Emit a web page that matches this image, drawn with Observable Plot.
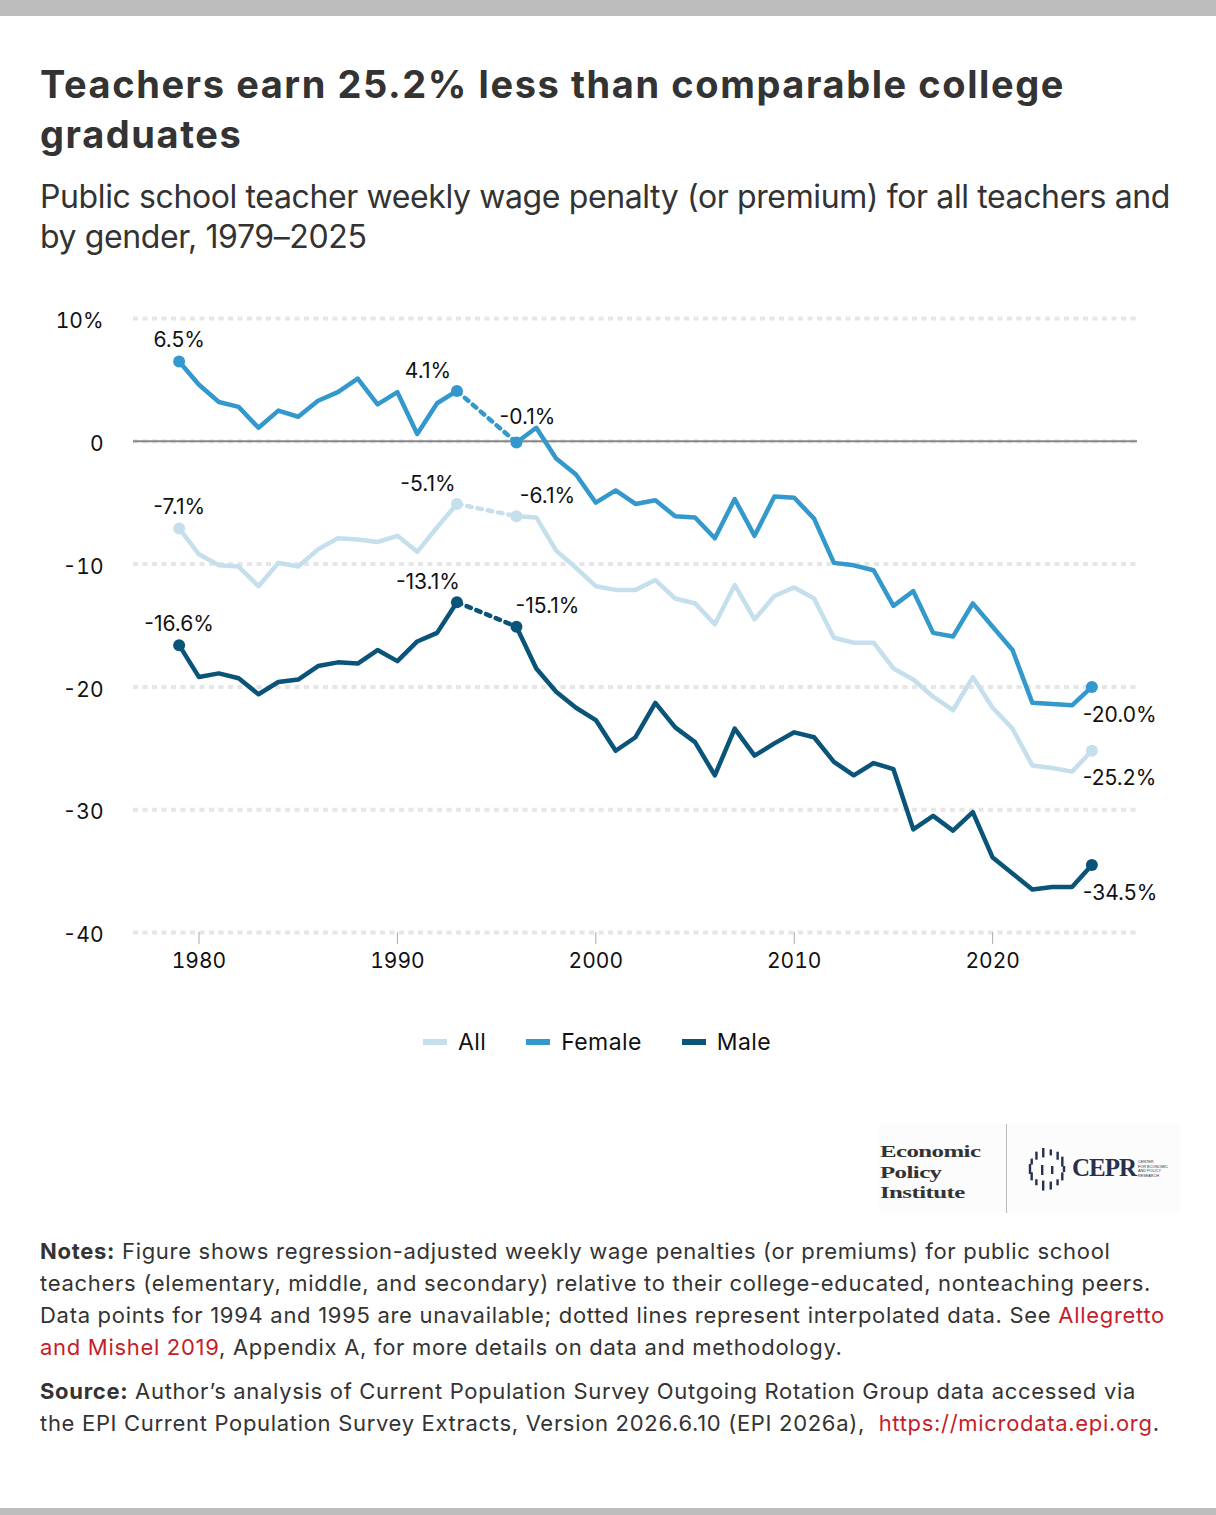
<!DOCTYPE html>
<html><head><meta charset="utf-8">
<script src="https://cdn.jsdelivr.net/npm/d3@7"></script>
<script src="https://cdn.jsdelivr.net/npm/@observablehq/plot@0.6"></script>
<style>
body{margin:0;width:1216px;height:1515px;position:relative;background:#fff;font-family:Inter,sans-serif;color:#333;overflow:hidden}
.bar{position:absolute;left:0;width:1216px;background:#bdbdbd}
#title{position:absolute;left:40px;top:59px;font-size:38px;font-weight:700;line-height:50px;white-space:nowrap;color:#333}
#subtitle{position:absolute;left:40px;top:177px;font-size:32px;font-weight:400;line-height:40px;white-space:nowrap;color:#333}
#chart{position:absolute;left:0;top:300px}
#legend{position:absolute;left:-11px;top:1028px;width:1216px;height:28px;display:flex;justify-content:center;align-items:center;font-size:23px;letter-spacing:0.4px;color:#111}
#legend .item{display:flex;align-items:center;margin:0 20px}
#legend .sw{width:24px;height:6px;margin-right:11px}
#logo{position:absolute;left:879px;top:1124px;width:301px;height:89px;background:#fcfcfc}
#epi{position:absolute;left:1px;top:17px;font-family:"Liberation Serif",serif;font-weight:700;font-size:17.5px;line-height:20.5px;color:#333;letter-spacing:-0.4px;transform:scaleX(1.42);transform-origin:0 0}
#sep{position:absolute;left:127px;top:0;width:1px;height:89px;background:#bbb}
#cepr{position:absolute;left:193px;top:30px;font-family:"Liberation Serif",serif;font-weight:700;font-size:25px;line-height:28px;color:#27304f;letter-spacing:-1px}
#ceprsmall{position:absolute;left:259px;top:36px;font-family:"Liberation Sans",sans-serif;font-size:3.8px;line-height:4.6px;color:#27304f}
#icon{position:absolute;left:145px;top:24px}
.notes{position:absolute;left:40px;font-size:22px;line-height:32px;white-space:nowrap;color:#333}
.notes a{color:#c41e2a;text-decoration:none}
</style></head>
<body>
<div class="bar" style="top:0;height:16px"></div>
<div id="title"><span id="t1">Teachers earn 25.2% less than comparable college</span><br>graduates</div>
<div id="subtitle"><span id="s1">Public school teacher weekly wage penalty (or premium) for all teachers and</span><br>by gender, 1979–2025</div>
<div id="chart"></div>
<div id="legend"></div>
<div id="logo">
  <div id="epi">Economic<br>Policy<br>Institute</div>
  <div id="sep"></div>
  <svg id="icon" width="46" height="44"></svg>
  <div id="cepr">CEPR</div>
  <div id="ceprsmall">CENTER<br>FOR ECONOMIC<br>AND POLICY<br>RESEARCH</div>
</div>
<div class="notes" id="notes" style="top:1235px"><b>Notes:</b> Figure shows regression-adjusted weekly wage penalties (or premiums) for public school<br>teachers (elementary, middle, and secondary) relative to their college-educated, nonteaching peers.<br><span id="n3">Data points for 1994 and 1995 are unavailable; dotted lines represent interpolated data. See <a>Allegretto</a></span><br><a>and Mishel 2019</a>, Appendix A, for more details on data and methodology.</div>
<div class="notes" id="source" style="top:1375px"><span id="r1"><b>Source:</b> Author’s analysis of Current Population Survey Outgoing Rotation Group data accessed via</span><br>the EPI Current Population Survey Extracts, Version 2026.6.10 (EPI 2026a),&nbsp; <a>https://microdata.epi.org</a>.</div>
<div class="bar" style="top:1508px;height:7px"></div>
<script>
const years = [1979,1980,1981,1982,1983,1984,1985,1986,1987,1988,1989,1990,1991,1992,1993,
  1996,1997,1998,1999,2000,2001,2002,2003,2004,2005,2006,2007,2008,2009,2010,
  2011,2012,2013,2014,2015,2016,2017,2018,2019,2020,2021,2022,2023,2024,2025];
const allValues = [-7.1,-9.2,-10.1,-10.2,-11.8,-9.9,-10.2,-8.8,-7.9,-8.0,-8.2,-7.7,-9.0,-7.0,-5.1,
  -6.1,-6.2,-8.9,-10.3,-11.8,-12.1,-12.1,-11.3,-12.8,-13.2,-14.9,-11.7,-14.5,-12.6,-11.9,
  -12.8,-16.0,-16.4,-16.4,-18.5,-19.4,-20.8,-21.9,-19.2,-21.7,-23.4,-26.4,-26.6,-26.9,-25.2];
const femaleValues = [6.5,4.6,3.2,2.8,1.1,2.5,2.0,3.3,4.0,5.1,3.0,4.0,0.6,3.1,4.1,
  -0.1,1.1,-1.4,-2.7,-5.0,-4.0,-5.1,-4.8,-6.1,-6.2,-7.9,-4.7,-7.7,-4.5,-4.6,
  -6.3,-9.9,-10.1,-10.5,-13.4,-12.2,-15.6,-15.9,-13.2,-15.1,-17.0,-21.3,-21.4,-21.5,-20.0];
const maleValues = [-16.6,-19.2,-18.9,-19.3,-20.6,-19.6,-19.4,-18.3,-18.0,-18.1,-17.0,-17.9,-16.3,-15.6,-13.1,
  -15.1,-18.5,-20.4,-21.7,-22.7,-25.2,-24.1,-21.3,-23.3,-24.5,-27.2,-23.4,-25.6,-24.6,-23.7,
  -24.1,-26.1,-27.2,-26.2,-26.7,-31.6,-30.5,-31.7,-30.2,-33.9,-35.2,-36.5,-36.3,-36.3,-34.5];
const seriesNames = ["All","Female","Male"];
const seriesColors = ["#c5dfec","#3399cc","#0b5479"];
const yTicks = [10,0,-10,-20,-30,-40];
const yTickLabels = ["10%","0","-10","-20","-30","-40"];
const xTicks = [1980,1990,2000,2010,2020];
const gapStart = 1993, gapEnd = 1996;
const labelYears = [1979,1993,1996,2025];

// fit text widths of HTML blocks to the reference line widths
function fit(blockId, lineId, target) {
  const line = document.getElementById(lineId);
  const w = line.getBoundingClientRect().width;
  const n = line.textContent.length;
  document.getElementById(blockId).style.letterSpacing = ((target - w) / n) + "px";
}
fit("title", "t1", 1025);
fit("subtitle", "s1", 1130);
fit("notes", "n3", 1125);
fit("source", "r1", 1096);

const valuesBySeries = {All: allValues, Female: femaleValues, Male: maleValues};
const rows = [];
for (const s of seriesNames) {
  years.forEach((yr, i) => rows.push({series: s, year: yr, value: valuesBySeries[s][i], seg: s + (yr <= gapStart ? "a" : "b")}));
}
const dotted = rows.filter(d => d.year === gapStart || d.year === gapEnd);
const marked = rows.filter(d => labelYears.includes(d.year));
const fmt = d => d.value.toFixed(1) + "%";

const font = "Inter, sans-serif";
const fs = 21;
const chart = Plot.plot({
  width: 1216, height: 700,
  marginLeft: 133, marginRight: 79, marginTop: 18, marginBottom: 68,
  x: {domain: [1976.7, 2027.3]},
  y: {domain: [-40, 10]},
  color: {domain: seriesNames, range: seriesColors},
  style: {fontFamily: font, fontSize: fs + "px", color: "#111", background: "transparent"},
  marks: [
    Plot.gridY(yTicks, {stroke: "#e6e6e6", strokeOpacity: 1, strokeWidth: 4, strokeDasharray: "5,4.5"}),
    Plot.ruleY([0], {stroke: "#888", strokeWidth: 2}),
    Plot.axisY(yTicks, {tickSize: 0, tickPadding: 30, dy: 3, tickFormat: (d) => yTickLabels[yTicks.indexOf(d)], label: null, fontSize: fs, fill: "#111"}),
    Plot.axisX(xTicks, {tickSize: 12, tickPadding: 9, stroke: "#aaa", fill: "#111", tickFormat: d => String(d), label: null, fontSize: fs}),
    Plot.line(dotted, {x: "year", y: "value", z: "series", stroke: "series", strokeWidth: 4.5, strokeDasharray: "4.5,6"}),
    Plot.line(rows, {x: "year", y: "value", z: "seg", stroke: "series", strokeWidth: 4.5}),
    Plot.dot(marked, {x: "year", y: "value", fill: "series", r: 6}),
    Plot.text(marked.filter(d => d.year === 1979), {x: "year", y: "value", text: fmt, dy: -21, fontSize: fs, fill: "#111"}),
    Plot.text(marked.filter(d => d.year === gapStart), {x: "year", y: "value", text: fmt, dx: -29, dy: -20, fontSize: fs, fill: "#111"}),
    Plot.text(marked.filter(d => d.year === gapEnd && d.series !== "Female"), {x: "year", y: "value", text: fmt, dx: 31, dy: -20, fontSize: fs, fill: "#111"}),
    Plot.text(marked.filter(d => d.year === gapEnd && d.series === "Female"), {x: "year", y: "value", text: fmt, dx: 11, dy: -25, fontSize: fs, fill: "#111"}),
    Plot.text(marked.filter(d => d.year === 2025), {x: "year", y: "value", text: fmt, dx: -9, dy: 28, textAnchor: "start", fontSize: fs, fill: "#111"})
  ]
});
document.getElementById("chart").appendChild(chart);

const legend = document.getElementById("legend");
seriesNames.forEach((s, i) => {
  const it = document.createElement("div");
  it.className = "item";
  it.innerHTML = `<span class="sw" style="background:${seriesColors[i]}"></span><span>${s}</span>`;
  legend.appendChild(it);
});

// CEPR icon: ring of short vertical dashes
const icon = d3.select("#icon");
const cx = 23, cy = 22, R = 17;
for (let k = 0; k < 14; k++) {
  const a = (k / 14) * 2 * Math.PI + 0.9;
  const x = cx + R * Math.cos(a), y = cy + R * Math.sin(a);
  icon.append("rect").attr("x", x - 1.2).attr("y", y - 4 - (k % 3)).attr("width", 2.4).attr("height", 6 + 2 * (k % 3)).attr("fill", "#27304f");
}
icon.append("rect").attr("x", cx - 6).attr("y", cy - 5).attr("width", 2.4).attr("height", 10).attr("fill", "#27304f");
icon.append("rect").attr("x", cx + 4).attr("y", cy - 4).attr("width", 2.4).attr("height", 8).attr("fill", "#27304f");
</script>
</body></html>
